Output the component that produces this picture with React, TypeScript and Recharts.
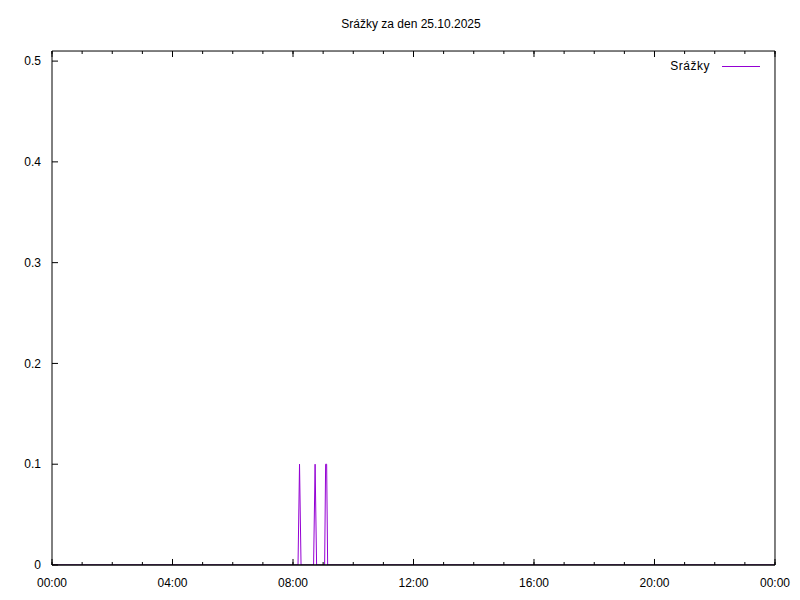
import { LineChart, Line, XAxis, YAxis, ReferenceLine } from 'recharts';

const title = 'Srážky za den 25.10.2025';
const seriesName = 'Srážky';
const lineColor = '#9400d3';

// minutes since midnight / mm
const times = [0, 490, 493, 496, 521, 524, 527, 543, 545, 547, 549, 1440];
const values = [0, 0, 0.1, 0, 0, 0.1, 0, 0, 0.1, 0.1, 0, 0];

const majorTicks = [0, 240, 480, 720, 960, 1200, 1440];
const minorTicks = Array.from({ length: 25 }, (_, i) => i * 60);
const yTicks = [0, 0.1, 0.2, 0.3, 0.4, 0.5];

const data = times.map((t, i) => ({ t, v: values[i] }));

const fmtTime = (m: number) => {
  const h = Math.floor(m / 60) % 24;
  return `${String(h).padStart(2, '0')}:00`;
};
const fmtY = (v: number) => (v === 0 ? '0' : v.toFixed(1));
const noLabel = () => '';

const font = { fontFamily: '"Liberation Sans", Arial, sans-serif', fontSize: 12, fill: '#000' };
const AX = 0.01;

export default function App() {
  return (
    <div style={{ position: 'absolute', left: 0, top: 0, width: 800, height: 600, background: '#fff', fontFamily: font.fontFamily }}>
      <div style={{ position: 'absolute', top: 17, left: 0, width: 822, textAlign: 'center', fontSize: 12 }}>{title}</div>
      <div style={{ position: 'absolute', top: 59, right: 90, fontSize: 12, letterSpacing: 0.5 }}>{seriesName}</div>
      <div style={{ position: 'absolute', top: 66, left: 722, width: 38, height: 1, background: lineColor }} />
      <LineChart width={800} height={600} data={data} margin={{ top: 51, right: 25, bottom: 35, left: 52 }}>
        <XAxis
          xAxisId="major" dataKey="t" type="number" domain={[0, 1440]} ticks={majorTicks}
          tickFormatter={fmtTime} height={AX} tickSize={-6} tickMargin={19} tick={font}
          stroke="#000" tickLine={{ stroke: '#000' }} allowDataOverflow interval={0}
        />
        <XAxis
          xAxisId="minor" dataKey="t" type="number" domain={[0, 1440]} ticks={minorTicks} tickFormatter={noLabel}
          height={AX} tickSize={-3} axisLine={false} tickLine={{ stroke: '#000' }} interval={0}
        />
        <XAxis
          xAxisId="top" orientation="top" dataKey="t" type="number" domain={[0, 1440]} ticks={majorTicks}
          tickFormatter={noLabel} height={AX} tickSize={-6} stroke="#000" tickLine={{ stroke: '#000' }} interval={0}
        />
        <XAxis
          xAxisId="topMinor" orientation="top" dataKey="t" type="number" domain={[0, 1440]} ticks={minorTicks}
          tickFormatter={noLabel} height={AX} tickSize={-3} axisLine={false} tickLine={{ stroke: '#000' }} interval={0}
        />
        <YAxis
          yAxisId="left" domain={[0, 0.51]} ticks={yTicks} tickFormatter={fmtY} width={AX}
          tickSize={-6} tickMargin={17} tick={font} stroke="#000" tickLine={{ stroke: '#000' }} allowDataOverflow interval={0}
        />
        <YAxis
          yAxisId="right" orientation="right" domain={[0, 0.51]} ticks={yTicks} width={AX} tickFormatter={noLabel}
          tickSize={-6} stroke="#000" tickLine={{ stroke: '#000' }} interval={0}
        />
        <Line
          xAxisId="major" yAxisId="left" dataKey="v" type="linear" stroke={lineColor}
          strokeWidth={1} dot={false} activeDot={false} isAnimationActive={false}
        />
        <ReferenceLine xAxisId="major" yAxisId="left" y={0} stroke="#000" />
      </LineChart>
    </div>
  );
}
